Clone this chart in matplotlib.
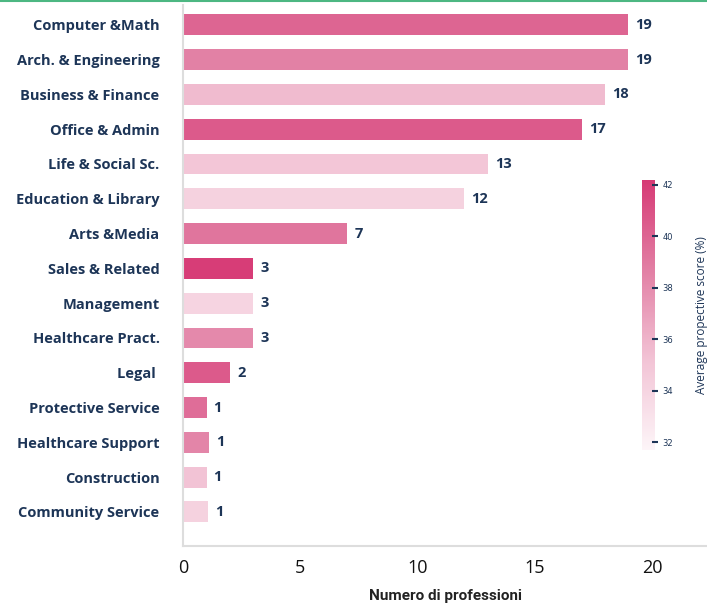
import numpy as np
import matplotlib.pyplot as plt
from matplotlib.colors import LinearSegmentedColormap, Normalize
from matplotlib.lines import Line2D

categories = ['Computer &Math', 'Arch. & Engineering', 'Business & Finance', 'Office & Admin',
              'Life & Social Sc.', 'Education & Library', 'Arts &Media', 'Sales & Related',
              'Management', 'Healthcare Pract.', 'Legal ', 'Protective Service',
              'Healthcare Support', 'Construction', 'Community Service']
counts = [19, 19, 18, 17, 13, 12, 7, 3, 3, 3, 2, 1, 1.1, 1, 1.05]
count_labels = ['19', '19', '18', '17', '13', '12', '7', '3', '3', '3', '2', '1', '1', '1', '1']
scores = [40.0, 38.6, 35.6, 40.6, 35.0, 34.2, 39.2, 42.0, 34.0, 38.2, 40.6, 39.6, 38.4, 35.2, 34.2]

navy = '#1d3557'
cmap = LinearSegmentedColormap.from_list('pinks', ['#fdf5f8', '#f2c3d5', '#e27fa4', '#d63a75'])
norm = Normalize(31.7, 42.2)

fig = plt.figure(figsize=(7.07, 6.03), dpi=100)
ax = fig.add_axes([0.259, 0.0945, 0.741, 0.8975])

y = np.arange(len(categories))
ax.barh(y, counts, height=0.6, color=cmap(norm(np.array(scores))))
for yi, v, lab in zip(y, counts, count_labels):
    ax.text(v + 0.3, yi, lab, va='center', ha='left', fontsize=10.5,
            fontweight='bold', color=navy, family='Open Sans')

ax.set_ylim(14.98, -0.575)
ax.set_xlim(0, 22.35)
ax.set_yticks(y)
ax.set_yticklabels(categories, fontsize=10.5, fontweight='bold', color=navy, family='Open Sans')
ax.tick_params(axis='y', length=0, pad=17)
ax.set_xticks([0, 5, 10, 15, 20])
ax.tick_params(axis='x', length=0, labelsize=13, pad=9)
for t in ax.get_xticklabels():
    t.set_family('Open Sans')
    t.set_color('#111111')
ax.set_xlabel('Numero di professioni', fontsize=11, fontweight='bold', color='#222222',
              family='Roboto', labelpad=9)
ax.spines['top'].set_visible(False)
ax.spines['right'].set_visible(False)
ax.spines['left'].set_color('#dddddd')
ax.spines['left'].set_linewidth(1.5)
ax.spines['bottom'].set_color('#dddddd')
ax.spines['bottom'].set_linewidth(1.5)

cax = fig.add_axes([0.908, 0.254, 0.018, 0.448])
sm = plt.cm.ScalarMappable(norm=norm, cmap=cmap)
cb = fig.colorbar(sm, cax=cax)
cb.outline.set_visible(False)
cb.set_ticks([32, 34, 36, 38, 40, 42])
cb.ax.tick_params(labelsize=6, color=navy, labelcolor=navy, length=4, width=1.5, direction='inout')
cb.set_label('Average propective score (%)', fontsize=8.5, color=navy, family='Open Sans', labelpad=16)

fig.add_artist(Line2D([0, 1], [0.998, 0.998], color='#4cb782', lw=1.5, transform=fig.transFigure))

fig.savefig('out.png', dpi=100)
